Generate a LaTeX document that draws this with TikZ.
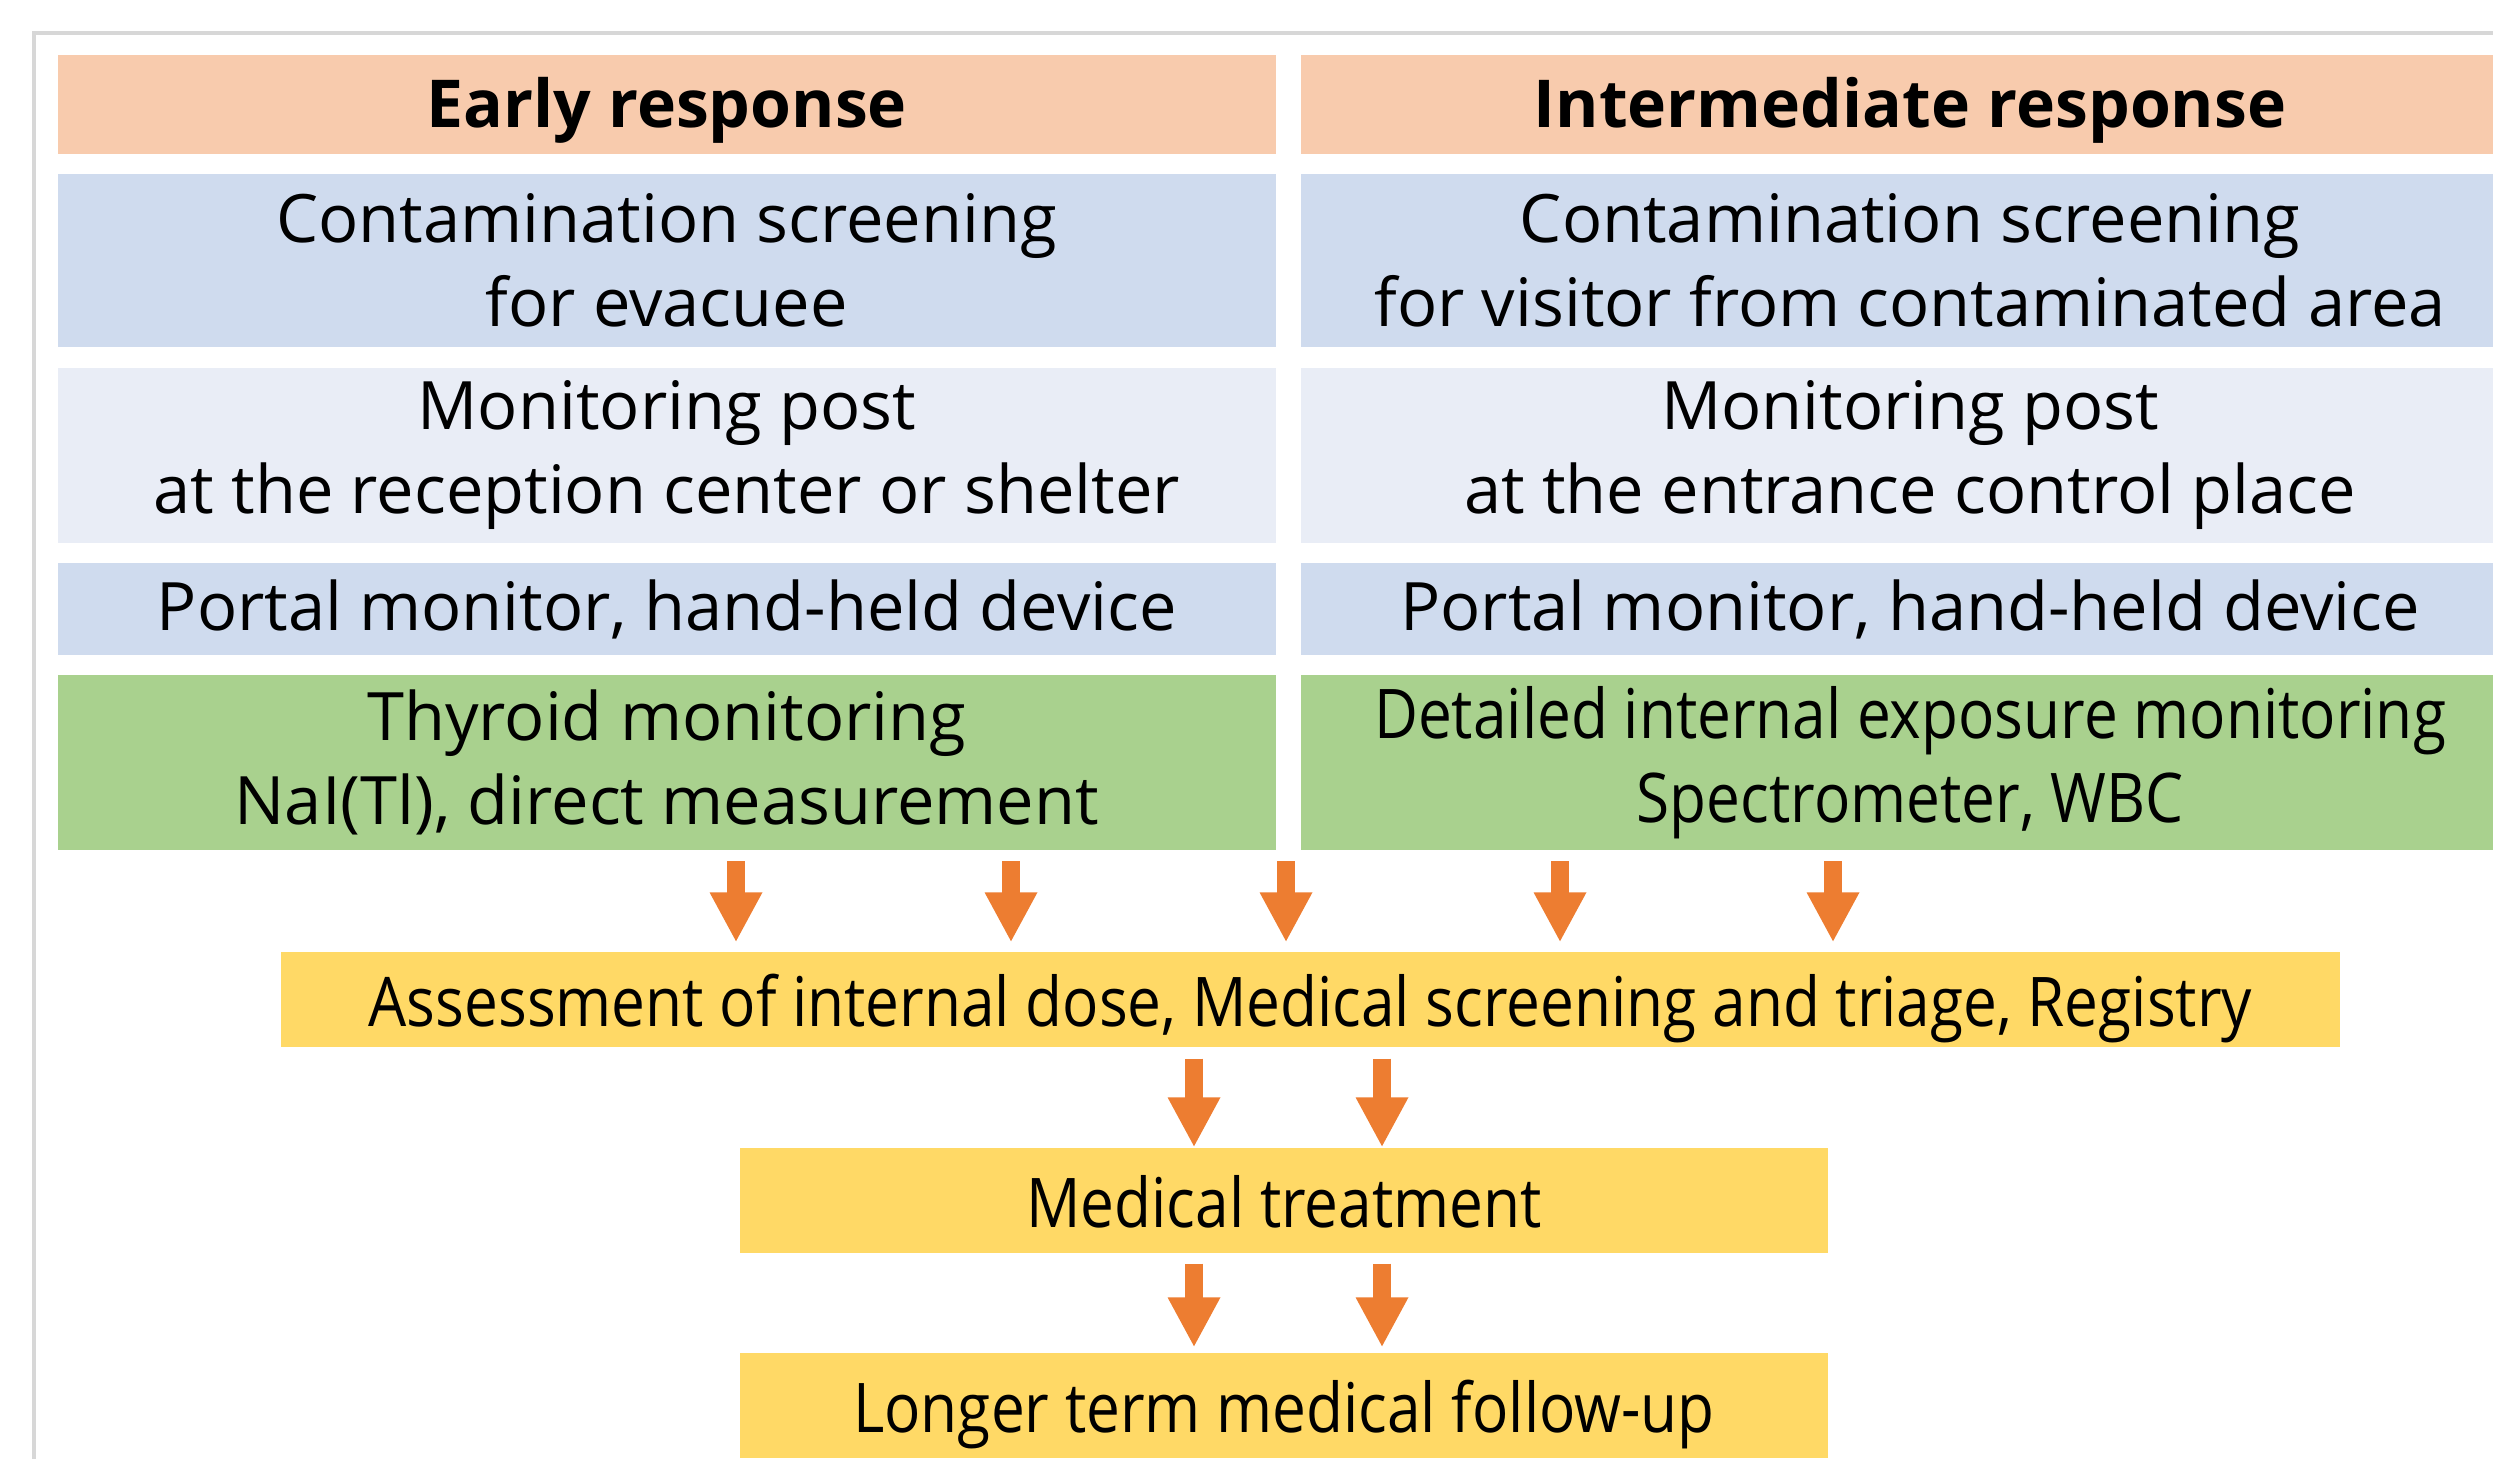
\documentclass[tikz,border=0pt]{standalone}
\usepackage{fontspec}
\setmainfont{Open Sans}
\newfontfamily\narrowfont{Open Sans}[FakeStretch=0.88]
\usepackage{xcolor}
\definecolor{headpeach}{RGB}{248,203,173}
\definecolor{cellblue}{RGB}{207,219,238}
\definecolor{celllight}{RGB}{233,237,246}
\definecolor{cellgreen}{RGB}{169,209,142}
\definecolor{stepyellow}{RGB}{255,217,102}
\definecolor{arroworange}{RGB}{237,125,49}
\definecolor{framegray}{RGB}{215,215,215}
\usetikzlibrary{positioning,arrows.meta}
\tikzset{
  cell/.style={rectangle,inner sep=0pt,align=center,text=black,
    minimum width=121.8mm,font=\fontsize{19}{23.9}\selectfont},
  headcell/.style={cell,fill=headpeach,minimum height=9.9mm,text height=6.2mm,text depth=1.6mm,
    font=\fontsize{18.8}{22}\selectfont\bfseries},
  bluecell/.style={cell,fill=cellblue,minimum height=17.3mm},
  lightcell/.style={cell,fill=celllight,minimum height=17.5mm},
  greencell/.style={cell,fill=cellgreen,minimum height=17.5mm},
  narrowtext/.style={font=\narrowfont\fontsize{19.5}{23.9}\selectfont},
  stepbox/.style={rectangle,inner sep=0pt,align=center,fill=stepyellow,
    text height=7mm,text depth=1.7mm,
    text=black,font=\narrowfont\fontsize{19.5}{22}\selectfont},
  fl/.style={-{Triangle[width=4.9mm,length=5mm]},draw=arroworange,line width=1.8mm},
}
\begin{document}
\begin{tikzpicture}[x=0.1mm,y=-0.1mm,node distance=1.9mm and 2.4mm]
  \useasboundingbox (0,0) rectangle (2493,1458);
  % outer frame, only its left and top edges fall inside the page
  \draw[framegray,line width=0.35mm] (34,1480) -- (34,33) -- (2520,33);
  % two response columns
  \node[headcell,anchor=north west] (eh) at (57,54) {Early response};
  \node[headcell,right=of eh] (ih) {Intermediate response};
  \node[bluecell,below=of eh] (ec) {Contamination screening\\for evacuee};
  \node[bluecell,below=of ih] (ic) {Contamination screening\\for visitor from contaminated area};
  \node[lightcell,below=of ec] (em) {Monitoring post\\at the reception center or shelter};
  \node[lightcell,below=of ic] (im) {Monitoring post\\at the entrance control place};
  \node[bluecell,minimum height=9.2mm,below=of em] (ep) {Portal monitor, hand-held device};
  \node[bluecell,minimum height=9.2mm,below=of im] (ip) {Portal monitor, hand-held device};
  \node[greencell,below=of ep] (et) {Thyroid monitoring\\NaI(Tl), direct measurement};
  \node[greencell,narrowtext,below=of ip] (id) {Detailed internal exposure monitoring\\Spectrometer, WBC};
  % medical follow-up chain
  \node[stepbox,minimum width=205.9mm,minimum height=9.5mm] (as) at (1310.5,999.5)
      {Assessment of internal dose, Medical screening and triage, Registry};
  \node[stepbox,minimum width=108.8mm,minimum height=10.5mm] (mt) at (1284,1200.5) {Medical treatment};
  \node[stepbox,minimum width=108.8mm,minimum height=10.5mm] (lt) at (1284,1405.5) {Longer term medical follow-up};
  \foreach \x in {736,1011,1286,1560,1833}{\draw[fl,shorten <=1mm,shorten >=0.9mm] (\x,0 |- et.south) -- (\x,0 |- as.north);}
  \foreach \x in {1194,1382}{
    \draw[fl,shorten <=1.1mm] (\x,0 |- as.south) -- (\x,0 |- mt.north);
    \draw[fl,shorten <=1mm,shorten >=0.5mm] (\x,0 |- mt.south) -- (\x,0 |- lt.north);
  }
\end{tikzpicture}
\end{document}
